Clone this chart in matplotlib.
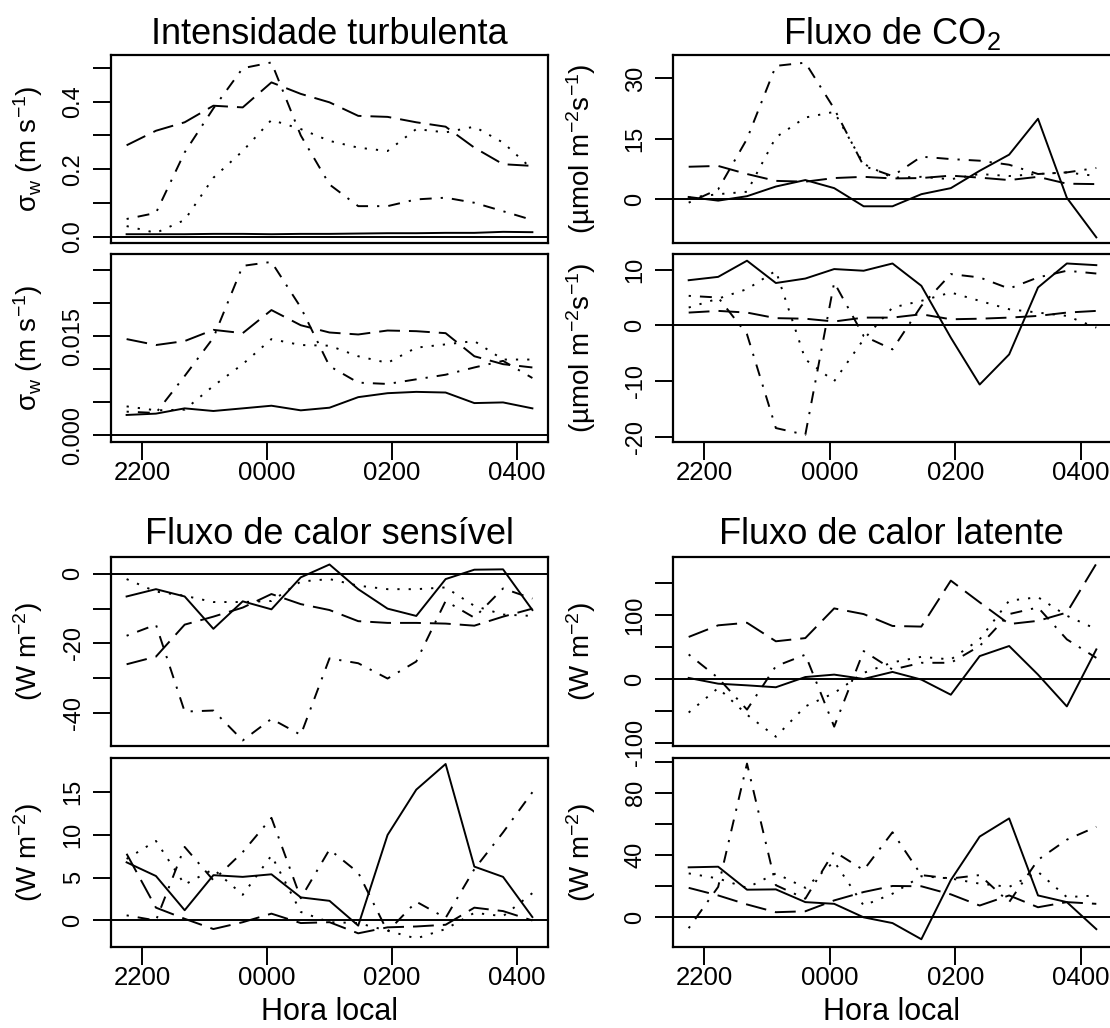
import matplotlib
matplotlib.use("Agg")
import matplotlib.pyplot as plt

plt.rcParams['font.family'] = ['Liberation Sans', 'DejaVu Sans']
plt.rcParams['mathtext.fontset'] = 'custom'
plt.rcParams['mathtext.rm'] = 'Liberation Sans'
plt.rcParams['mathtext.it'] = 'Liberation Sans'
plt.rcParams['mathtext.default'] = 'rm'
plt.rcParams['lines.scale_dashes'] = False

# ---------------- data ----------------
hours = [21.75, 22.22, 22.68, 23.14, 23.61, 24.07, 24.54, 25.00,
         25.46, 25.93, 26.39, 26.86, 27.32, 27.78, 28.25]
xticks = [22, 24, 26, 28]
xticklabels = ['2200', '0000', '0200', '0400']

# order of series: solid, longdash, dotted, dotdash
sigma_top = [
    [0.008, 0.008, 0.008, 0.009, 0.009, 0.008, 0.009, 0.009, 0.010, 0.011, 0.011, 0.012, 0.012, 0.015, 0.014],
    [0.271, 0.314, 0.339, 0.388, 0.383, 0.457, 0.423, 0.398, 0.358, 0.355, 0.339, 0.326, 0.264, 0.215, 0.210],
    [0.032, 0.012, 0.050, 0.175, 0.254, 0.346, 0.319, 0.284, 0.264, 0.254, 0.319, 0.309, 0.326, 0.279, 0.200],
    [0.053, 0.071, 0.250, 0.380, 0.499, 0.516, 0.300, 0.155, 0.091, 0.091, 0.111, 0.116, 0.101, 0.076, 0.050],
]
sigma_bottom = [
    [0.0031, 0.0033, 0.0041, 0.0037, 0.0041, 0.0045, 0.0038, 0.0042, 0.0058, 0.0064, 0.0066, 0.0065, 0.0049, 0.0050, 0.0041],
    [0.0146, 0.0137, 0.0143, 0.0160, 0.0155, 0.0190, 0.0167, 0.0156, 0.0153, 0.0159, 0.0158, 0.0155, 0.0120, 0.0108, 0.0103],
    [0.0044, 0.0038, 0.0039, 0.0075, 0.0108, 0.0146, 0.0137, 0.0136, 0.0120, 0.0110, 0.0133, 0.0138, 0.0143, 0.0115, 0.0115],
    [0.0036, 0.0034, 0.0090, 0.0148, 0.0257, 0.0263, 0.0194, 0.0105, 0.0080, 0.0078, 0.0085, 0.0092, 0.0103, 0.0113, 0.0087],
]
co2_top = [
    [0.6, -0.3, 0.8, 3.2, 4.8, 2.8, -1.7, -1.7, 1.3, 2.8, 7.1, 11.1, 20.0, 0.4, -9.4],
    [8.1, 8.3, 6.3, 4.6, 4.4, 5.3, 5.6, 5.2, 5.3, 5.9, 5.4, 4.8, 5.6, 3.9, 3.8],
    [0.4, 1.3, 1.9, 15.4, 20.3, 21.7, 8.8, 5.4, 5.6, 5.0, 6.3, 5.8, 6.3, 6.7, 5.8],
    [-0.8, 2.5, 15.0, 33.1, 33.9, 22.5, 8.3, 5.8, 10.6, 10.0, 9.6, 8.6, 6.3, 6.7, 7.8],
]
co2_bottom = [
    [8.1, 8.7, 11.6, 7.6, 8.4, 10.1, 9.8, 11.1, 7.1, -2.2, -10.6, -5.2, 6.8, 11.1, 10.8],
    [2.3, 2.6, 2.3, 1.3, 1.2, 0.7, 1.4, 1.4, 2.0, 1.1, 1.2, 1.4, 1.7, 2.3, 2.6],
    [3.2, 4.8, 6.5, 9.8, -6.1, -10.0, -2.5, 3.2, 4.4, 5.9, 4.4, 2.9, 2.3, 1.7, -0.4],
    [5.3, 5.0, -1.6, -18.4, -19.6, 7.7, -1.9, -4.3, 3.5, 9.2, 8.6, 6.6, 8.6, 9.8, 9.3],
]
h_top = [
    [-6.5, -4.4, -6.5, -15.8, -7.9, -10.2, -1.0, 2.7, -4.4, -10.0, -12.1, -1.5, 1.2, 1.3, -10.4],
    [-26.0, -23.8, -14.6, -12.3, -9.7, -5.8, -8.7, -10.4, -13.6, -14.1, -14.1, -14.3, -14.9, -12.3, -10.0],
    [-1.5, -5.1, -6.3, -8.1, -8.1, -7.8, -2.2, -1.5, -3.4, -4.4, -4.4, -3.9, -9.2, -11.7, -12.1],
    [-17.8, -14.6, -39.6, -39.3, -47.9, -41.7, -46.3, -24.3, -25.7, -30.1, -25.2, -7.8, -12.6, -4.2, -7.1],
]
h_bottom = [
    [6.8, 5.2, 1.2, 5.3, 5.1, 5.4, 2.7, 2.3, -0.6, 10.0, 15.3, 18.3, 6.3, 5.1, 0.4],
    [7.8, 1.5, 0.2, -1.0, -0.2, 0.8, -0.3, -0.2, -1.5, -0.8, -0.7, -0.5, 1.5, 1.1, 0.0],
    [7.2, 9.3, 4.2, 6.0, 3.0, 7.6, 1.0, -0.2, -0.3, -1.2, -2.1, -1.0, 0.9, 0.5, 3.2],
    [0.6, 0.0, 8.6, 4.7, 8.0, 12.0, 2.6, 8.3, 5.6, -1.3, 2.2, 0.3, 6.0, 10.3, 15.0],
]
le_top = [
    [1.6, -7.4, -10.0, -13.0, 3.0, 6.8, 0.0, 11.0, -1.0, -24.7, 35.8, 51.6, 6.8, -43.0, 46.3],
    [65.8, 84.0, 88.0, 59.0, 64.0, 110.5, 101.6, 83.0, 82.0, 154.0, 120.0, 86.0, 91.0, 104.0, 180.5],
    [-52.6, -14.2, -56.0, -90.5, -43.0, -22.0, 9.5, 26.0, 34.7, 30.5, 62.0, 122.6, 128.0, 99.0, 78.0],
    [38.4, 1.6, -48.0, 20.0, 38.0, -74.7, 43.7, 14.7, 25.3, 25.3, 51.6, 101.6, 112.0, 62.0, 33.0],
]
le_bottom = [
    [32.2, 32.6, 17.8, 18.0, 9.8, 8.7, 0.0, -3.7, -14.1, 24.0, 52.0, 63.7, 14.1, 9.8, -7.6],
    [19.0, 14.1, 8.3, 3.3, 3.9, 10.9, 16.3, 20.2, 20.0, 14.8, 7.6, 14.1, 6.5, 9.8, 8.7],
    [28.3, 25.0, 19.0, 28.3, 19.0, 35.9, 7.6, 15.2, 26.5, 25.0, 21.7, 19.6, 29.3, 13.0, 14.1],
    [-7.0, 19.6, 99.0, 20.7, 12.0, 42.4, 30.4, 54.8, 27.2, 25.0, 27.2, 9.8, 37.0, 50.0, 58.3],
]

titles = ['Intensidade turbulenta', 'Fluxo de CO$_2$',
          'Fluxo de calor sensível', 'Fluxo de calor latente']
ylab_sigma = r'$\mathrm{σ_w\ (m\ s^{-1})}$'
ylab_co2 = r'$\mathrm{(µmol\ m^{-2}s^{-1})}$'
ylab_w = r'$\mathrm{(W\ m^{-2})}$'
xlabel = 'Hora local'

# ---------------- styles ----------------
styles = [
    dict(linestyle='-'),
    dict(linestyle=(0, (15, 6.5))),
    dict(linestyle=(0, (1.6, 6.5))),
    dict(linestyle=(0, (1.6, 6.5, 8.6, 6.5))),
]
LW = 1.4

W, H = 1110, 1028
fig = plt.figure(figsize=(W / 100, H / 100), dpi=100)


def make_ax(x0, x1, y0, y1):
    return fig.add_axes([x0 / W, 1 - y1 / H, (x1 - x0) / W, (y1 - y0) / H])


def draw(ax, series, ylim, yticks, ylabels, ylabel, bottom, labx):
    for s, st in zip(series, styles):
        ax.plot(hours, s, color='black', lw=LW, **st)
    ax.axhline(0, color='black', lw=LW)
    ax.set_xlim(21.5, 28.5)
    ax.set_ylim(*ylim)
    ax.set_yticks(yticks)
    ax.set_yticklabels(ylabels, rotation=90, va='center', ha='right')
    for sp in ax.spines.values():
        sp.set_linewidth(1.6)
    ax.tick_params(axis='y', direction='out', length=13, width=1.4,
                   labelsize=17, pad=6)
    if bottom:
        ax.set_xticks(xticks)
        ax.set_xticklabels(xticklabels)
        ax.tick_params(axis='x', direction='out', length=13, width=1.4,
                       labelsize=18.5, pad=1)
    else:
        ax.set_xticks([])
    ax.set_ylabel(ylabel, fontsize=20)
    ax.yaxis.set_label_coords(labx, 0.5)


LX = (111, 548)
RX = (673, 1112)
ROW_A = ((55, 243), (254, 442))
ROW_B = ((557, 746), (758, 947))
RC = (1110 - 673) / (2 * (1112 - 673))

# Turbulence intensity
a1 = make_ax(*LX, *ROW_A[0])
draw(a1, sigma_top, (-0.018, 0.538), [0, 0.1, 0.2, 0.3, 0.4, 0.5],
     ['0.0', '', '0.2', '', '0.4', ''], ylab_sigma, False, -0.15)
a1.set_title(titles[0], fontsize=26, pad=8)
a2 = make_ax(*LX, *ROW_A[1])
draw(a2, sigma_bottom, (-0.001, 0.0275), [0, 0.005, 0.010, 0.015, 0.020, 0.025],
     ['0.000', '', '', '0.015', '', ''], ylab_sigma, True, -0.15)

# CO2 flux
b1 = make_ax(*RX, *ROW_A[0])
draw(b1, co2_top, (-10.8, 35.8), [0, 15, 30], ['0', '15', '30'], ylab_co2, False, -0.17)
b1.set_title(titles[1], fontsize=26, pad=8, x=RC)
b2 = make_ax(*RX, *ROW_A[1])
draw(b2, co2_bottom, (-20.9, 12.8), [-20, -10, 0, 10], ['-20', '-10', '0', '10'],
     ylab_co2, True, -0.17)

# Sensible heat
c1 = make_ax(*LX, *ROW_B[0])
draw(c1, h_top, (-49.5, 4.85), [-40, -30, -20, -10, 0], ['-40', '', '-20', '', '0'],
     ylab_w, False, -0.15)
c1.set_title(titles[2], fontsize=26, pad=9)
c2 = make_ax(*LX, *ROW_B[1])
draw(c2, h_bottom, (-3.1, 19.0), [0, 5, 10, 15], ['0', '5', '10', '15'], ylab_w, True, -0.15)
c2.set_xlabel(xlabel, fontsize=22)
c2.xaxis.set_label_coords(0.5, -0.265)

# Latent heat
d1 = make_ax(*RX, *ROW_B[0])
draw(d1, le_top, (-105, 191), [-100, -50, 0, 50, 100, 150],
     ['-100', '', '0', '', '100', ''], ylab_w, False, -0.17)
d1.set_title(titles[3], fontsize=26, pad=9, x=RC)
d2 = make_ax(*RX, *ROW_B[1])
draw(d2, le_bottom, (-19.1, 102.6), [0, 20, 40, 60, 80, 100],
     ['0', '', '40', '', '80', ''], ylab_w, True, -0.17)
d2.set_xlabel(xlabel, fontsize=22)
d2.xaxis.set_label_coords(RC, -0.265)

fig.savefig('out.png', dpi=100)
